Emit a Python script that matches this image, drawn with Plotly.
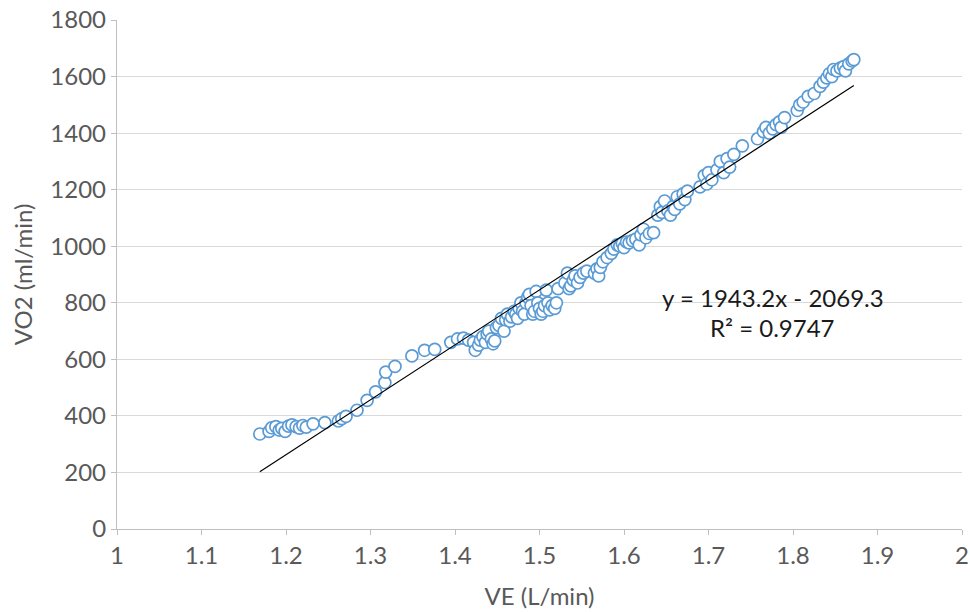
import plotly.graph_objects as go

# Ventilation (L/min) vs oxygen uptake (ml/min)
ve = [
    1.169, 1.180, 1.183, 1.188, 1.192, 1.195, 1.199, 1.203, 1.207, 1.212,
    1.216, 1.220, 1.224, 1.232, 1.246, 1.262, 1.266, 1.271, 1.284, 1.296,
    1.306, 1.317, 1.318, 1.329, 1.349, 1.364, 1.376, 1.395, 1.403, 1.410,
    1.416, 1.422, 1.424, 1.428, 1.430, 1.433, 1.436, 1.438, 1.440, 1.443,
    1.445, 1.447, 1.449, 1.452, 1.455, 1.458, 1.460, 1.462, 1.465, 1.467,
    1.470, 1.472, 1.474, 1.476, 1.478, 1.480, 1.482, 1.484, 1.486, 1.488,
    1.490, 1.492, 1.494, 1.496, 1.498, 1.500, 1.502, 1.504, 1.506, 1.508,
    1.510, 1.512, 1.515, 1.518, 1.520, 1.522, 1.530, 1.533, 1.535, 1.537,
    1.540, 1.542, 1.545, 1.548, 1.552, 1.556, 1.565, 1.568, 1.570, 1.572,
    1.575, 1.580, 1.585, 1.588, 1.592, 1.595, 1.598, 1.600, 1.603, 1.606,
    1.610, 1.614, 1.618, 1.620, 1.623, 1.626, 1.630, 1.635, 1.640, 1.643,
    1.645, 1.648, 1.652, 1.655, 1.658, 1.660, 1.663, 1.666, 1.670, 1.672,
    1.675, 1.690, 1.695, 1.698, 1.700, 1.704, 1.710, 1.714, 1.718, 1.722,
    1.725, 1.730, 1.740, 1.758, 1.765, 1.768, 1.772, 1.776, 1.780, 1.784,
    1.786, 1.790, 1.805, 1.808, 1.812, 1.818, 1.825, 1.832, 1.836, 1.840,
    1.843, 1.846, 1.848, 1.852, 1.856, 1.860, 1.862, 1.866, 1.870, 1.872,
]
vo2 = [
    336, 345, 358, 362, 350, 356, 345, 364, 368, 362,
    357, 366, 360, 372, 376, 382, 390, 398, 420, 455,
    485, 518, 555, 575, 612, 632, 635, 660, 672, 675,
    668, 660, 632, 650, 668, 680, 660, 690, 700, 672,
    655, 665, 712, 720, 745, 700, 740, 760, 735, 750,
    770, 760, 745, 780, 800, 770, 760, 800, 820, 830,
    790, 760, 770, 840, 800, 780, 760, 770, 790, 845,
    800, 775, 790, 780, 800, 850, 870, 905, 850, 860,
    880, 895, 870, 890, 905, 912, 905, 920, 895, 925,
    945, 960, 975, 990, 1005, 1000, 1010, 995, 1015, 1012,
    1020, 1025, 1005, 1040, 1060, 1030, 1045, 1048, 1110, 1140,
    1120, 1160, 1125, 1110, 1140, 1130, 1175, 1150, 1185, 1165,
    1195, 1210, 1250, 1220, 1260, 1235, 1270, 1300, 1260, 1310,
    1280, 1325, 1355, 1380, 1405, 1420, 1400, 1415, 1430, 1440,
    1420, 1455, 1480, 1500, 1510, 1530, 1540, 1565, 1580, 1595,
    1610, 1600, 1625, 1620, 1630, 1635, 1620, 1645, 1655, 1660,
]

# Linear trendline coefficients and fit quality
slope = 1943.2
intercept = -2069.3
r_squared = 0.9747

x_ticks = [1.0, 1.1, 1.2, 1.3, 1.4, 1.5, 1.6, 1.7, 1.8, 1.9, 2.0]
x_tick_labels = ["1", "1.1", "1.2", "1.3", "1.4", "1.5", "1.6", "1.7", "1.8", "1.9", "2"]
y_ticks = [0, 200, 400, 600, 800, 1000, 1200, 1400, 1600, 1800]
y_tick_labels = [str(v) for v in y_ticks]

FONT = "Lato, 'Open Sans', sans-serif"
FS = 24
TICK_COLOR = "#595959"
GRID = "#d9d9d9"
AXIS = "#bfbfbf"

x_fit = [min(ve), max(ve)]
y_fit = [slope * x + intercept for x in x_fit]

fig = go.Figure()
fig.add_trace(go.Scatter(
    x=ve, y=vo2, mode="markers",
    marker=dict(symbol="circle", size=12, color="white",
                line=dict(color="#5b9bd5", width=1.7)),
    showlegend=False, hoverinfo="x+y",
))
fig.add_trace(go.Scatter(
    x=x_fit, y=y_fit, mode="lines",
    line=dict(color="black", width=1.2),
    showlegend=False, hoverinfo="skip",
))

sign = "-" if intercept < 0 else "+"
fig.add_annotation(x=1.776, y=817, xref="x", yref="y", showarrow=False,
                   text=f"y = {slope}x {sign} {abs(intercept)}",
                   font=dict(family=FONT, size=FS, color="#1a1a1a"))
fig.add_annotation(x=1.776, y=714, xref="x", yref="y", showarrow=False,
                   text=f"R² = {r_squared}",
                   font=dict(family=FONT, size=FS, color="#1a1a1a"))

fig.update_xaxes(
    range=[1, 2], tickvals=x_ticks, ticktext=x_tick_labels,
    showgrid=False, zeroline=False, automargin=False,
    ticklabeloverflow="allow",
    showline=True, linecolor=AXIS, linewidth=1.3,
    ticks="outside", ticklen=5, tickcolor=AXIS,
    tickfont=dict(family=FONT, size=FS, color=TICK_COLOR),
    title=dict(text="VE (L/min)", font=dict(family=FONT, size=FS, color=TICK_COLOR),
               standoff=20),
)
fig.update_yaxes(
    range=[0, 1800], tickvals=y_ticks, ticktext=y_tick_labels,
    showgrid=True, gridcolor=GRID, gridwidth=1.3, zeroline=False,
    automargin=False,
    showline=True, linecolor=AXIS, linewidth=1.3,
    ticks="outside", ticklen=5, tickcolor=AXIS,
    tickfont=dict(family=FONT, size=FS, color=TICK_COLOR),
    title=dict(text="VO2 (ml/min)", font=dict(family=FONT, size=FS, color=TICK_COLOR),
               standoff=10),
)
fig.update_layout(
    width=970, height=612,
    margin=dict(l=117, r=8, t=20, b=83),
    paper_bgcolor="white", plot_bgcolor="white",
)

fig.write_html("out.html")
